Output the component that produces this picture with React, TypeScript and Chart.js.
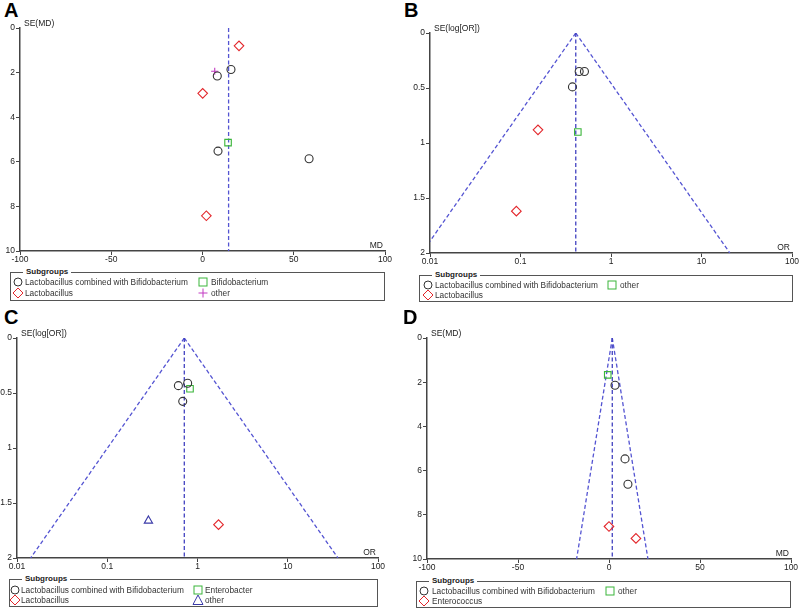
import React, { useEffect, useRef } from 'react';
import { Chart, registerables } from 'chart.js';

Chart.register(...registerables);

const FONT = '"Liberation Sans", Arial, Helvetica, sans-serif';
Chart.defaults.font.family = FONT;

// ---------- Panel A (MD) ----------
const aCombMD = [15.6, 8.1, 8.5, 58.4];
const aCombSE = [1.86, 2.15, 5.52, 5.86];
const aLactoMD = [20.0, 0.1, 2.1];
const aLactoSE = [0.8, 2.93, 8.42];
const aBifidoMD = [14.0];
const aBifidoSE = [5.14];
const aOtherMD = [6.7];
const aOtherSE = [1.94];
const aPooled = 14.3;

// ---------- Panel B (OR) ----------
const bCombOR = [0.445, 0.509, 0.375];
const bCombSE = [0.35, 0.35, 0.49];
const bLactoOR = [0.156, 0.09];
const bLactoSE = [0.88, 1.62];
const bOtherOR = [0.43];
const bOtherSE = [0.9];
const bPooled = 0.408;

// ---------- Panel C (OR) ----------
const cCombOR = [0.614, 0.778, 0.686];
const cCombSE = [0.433, 0.412, 0.576];
const cEnteroOR = [0.826];
const cEnteroSE = [0.461];
const cLactoOR = [1.71];
const cLactoSE = [1.697];
const cOtherOR = [0.286];
const cOtherSE = [1.661];
const cPooled = 0.714;

// ---------- Panel D (MD) ----------
const dCombMD = [3.3, 8.8, 10.4];
const dCombSE = [2.14, 5.47, 6.62];
const dOtherMD = [-0.7];
const dOtherSE = [1.67];
const dEnteroMD = [0.0, 14.8];
const dEnteroSE = [8.53, 9.07];
const dPooled = 1.8;

// ---------- ticks ----------
const mdTicks = [-100, -50, 0, 50, 100];
const mdSETicks = [0, 2, 4, 6, 8, 10];
const orTicks = [0.01, 0.1, 1, 10, 100];
const orSETicks = [0, 0.5, 1, 1.5, 2];

const Z = 1.96;

// ---------- labels ----------
const LBL_COMB = 'Lactobacillus combined with Bifidobacterium';
const LBL_LACTO = 'Lactobacillus';
const LBL_BIFIDO = 'Bifidobacterium';
const LBL_OTHER = 'other';
const LBL_ENTEROB = 'Enterobacter';
const LBL_ENTEROC = 'Enterococcus';

type Shape = 'circle' | 'diamond' | 'square' | 'plus' | 'triangle';

const SHAPES: Record<Shape, { pointStyle: string; radius: number; color: string }> = {
  circle: { pointStyle: 'circle', radius: 4, color: '#333333' },
  diamond: { pointStyle: 'rectRot', radius: 4.8, color: '#e3262b' },
  square: { pointStyle: 'rect', radius: 4.6, color: '#3ab53a' },
  plus: { pointStyle: 'cross', radius: 3.6, color: '#c23bc2' },
  triangle: { pointStyle: 'triangle', radius: 4.8, color: '#3a3aa8' },
};

const LINE_COLOR = '#5454d2';
const MID_COLOR = '#4242c0';

function pts(xs: number[], ys: number[], shape: Shape) {
  const s = SHAPES[shape];
  return {
    data: xs.map((x, i) => ({ x, y: ys[i] })),
    pointStyle: s.pointStyle,
    pointRadius: s.radius,
    borderColor: s.color,
    backgroundColor: 'rgba(0,0,0,0)',
    pointBorderWidth: 1.1,
    showLine: false,
    order: 1,
  };
}

function seg(x0: number, y0: number, x1: number, y1: number, color: string) {
  return {
    data: [
      { x: x0, y: y0 },
      { x: x1, y: y1 },
    ],
    showLine: true,
    pointRadius: 0,
    borderColor: color,
    borderWidth: 1.3,
    borderDash: [4, 2.5],
    fill: false,
    order: 10,
  };
}

function funnelMD(p: number, seMax: number) {
  return [
    seg(p, 0, p, seMax, MID_COLOR),
    seg(p, 0, p - Z * seMax, seMax, LINE_COLOR),
    seg(p, 0, p + Z * seMax, seMax, LINE_COLOR),
  ];
}

function funnelOR(p: number, seMax: number) {
  return [
    seg(p, 0, p, seMax, MID_COLOR),
    seg(p, 0, p * Math.exp(-Z * seMax), seMax, LINE_COLOR),
    seg(p, 0, p * Math.exp(Z * seMax), seMax, LINE_COLOR),
  ];
}

const axisTitles = {
  id: 'axisTitles',
  afterDraw(chart: any, _args: any, opts: any) {
    const { ctx, chartArea: a } = chart;
    ctx.save();
    ctx.font = `8.5px ${FONT}`;
    ctx.fillStyle = '#222';
    ctx.textBaseline = 'alphabetic';
    ctx.textAlign = 'left';
    ctx.fillText(opts.y, a.left + 4, a.top - 2);
    ctx.textAlign = 'right';
    ctx.fillText(opts.x, a.right - 2, a.bottom - 3);
    ctx.restore();
  },
};

type Area = { l: number; t: number; r: number; b: number };

type LegendItem = { shape: Shape; label: string; col: number; row: number };
type LegendSpec = {
  x: number;
  y: number;
  w: number;
  h: number;
  sym: number[];
  txt: number[];
  rows: number[];
  items: LegendItem[];
};

type PanelSpec = {
  letter: string;
  letterX: number;
  letterY: number;
  left: number;
  top: number;
  w: number;
  h: number;
  area: Area;
  xType: 'linear' | 'logarithmic';
  xMin: number;
  xMax: number;
  xTicks: number[];
  yMax: number;
  yTicks: number[];
  xTitle: string;
  yTitle: string;
  datasets: any[];
  legend: LegendSpec;
};

const AXIS_COLOR = '#444';

function ChartPanel({ p }: { p: PanelSpec }) {
  const ref = useRef<HTMLCanvasElement | null>(null);
  useEffect(() => {
    if (!ref.current) return;
    const tickFont = { size: 8.5, family: FONT };
    const chart = new Chart(ref.current, {
      type: 'scatter',
      data: { datasets: p.datasets },
      options: {
        animation: false,
        responsive: false,
        maintainAspectRatio: false,
        events: [],
        layout: { padding: { top: p.area.t, right: p.w - p.area.r, left: 0, bottom: 0 } },
        plugins: {
          legend: { display: false },
          tooltip: { enabled: false },
          axisTitles: { x: p.xTitle, y: p.yTitle },
        } as any,
        scales: {
          x: {
            type: p.xType,
            min: p.xMin,
            max: p.xMax,
            afterBuildTicks: (s: any) => {
              s.ticks = p.xTicks.map((v) => ({ value: v }));
            },
            afterFit: (s: any) => {
              s.height = p.h - p.area.b;
              s.paddingLeft = 0;
              s.paddingRight = 0;
            },
            ticks: {
              autoSkip: false,
              maxRotation: 0,
              minRotation: 0,
              padding: 0,
              color: '#222',
              font: tickFont,
              callback: (v: any) => String(v),
            },
            grid: { drawOnChartArea: false, drawTicks: true, tickLength: 4, color: AXIS_COLOR, lineWidth: 1 },
            border: { display: true, color: AXIS_COLOR, width: 1.5 },
          } as any,
          y: {
            type: 'linear',
            reverse: true,
            min: 0,
            max: p.yMax,
            afterBuildTicks: (s: any) => {
              s.ticks = p.yTicks.map((v) => ({ value: v }));
            },
            afterFit: (s: any) => {
              s.width = p.area.l;
              s.paddingTop = 0;
              s.paddingBottom = 0;
            },
            ticks: {
              autoSkip: false,
              padding: 1,
              color: '#222',
              font: tickFont,
              callback: (v: any) => String(v),
            },
            grid: { drawOnChartArea: false, drawTicks: true, tickLength: 4, color: AXIS_COLOR, lineWidth: 1 },
            border: { display: true, color: AXIS_COLOR, width: 1.5 },
          } as any,
        },
      },
      plugins: [axisTitles as any],
    });
    return () => chart.destroy();
  }, [p]);

  const lg = p.legend;
  return (
    <>
      <div
        style={{
          position: 'absolute',
          left: p.letterX,
          top: p.letterY,
          font: `bold 20px ${FONT}`,
          lineHeight: '20px',
          color: '#000',
        }}
      >
        {p.letter}
      </div>
      <canvas
        ref={ref}
        width={p.w}
        height={p.h}
        style={{ position: 'absolute', left: p.left, top: p.top, width: p.w, height: p.h }}
      />
      <div
        style={{
          position: 'absolute',
          left: lg.x,
          top: lg.y,
          width: lg.w,
          height: lg.h,
          border: '1px solid #555',
          boxSizing: 'border-box',
          fontFamily: FONT,
        }}
      >
        <div
          style={{
            position: 'absolute',
            left: 12,
            top: -6,
            padding: '0 3px',
            background: '#fff',
            font: `bold 8px ${FONT}`,
            lineHeight: '10px',
            color: '#222',
          }}
        >
          Subgroups
        </div>
        {lg.items.map((it, i) => (
          <React.Fragment key={i}>
            <Sym shape={it.shape} x={lg.sym[it.col]} y={lg.rows[it.row]} />
            <div
              style={{
                position: 'absolute',
                left: lg.txt[it.col],
                top: lg.rows[it.row] - 6,
                fontSize: '8.3px',
                lineHeight: '11px',
                color: '#333',
                whiteSpace: 'nowrap',
              }}
            >
              {it.label}
            </div>
          </React.Fragment>
        ))}
      </div>
    </>
  );
}

function Sym({ shape, x, y }: { shape: Shape; x: number; y: number }) {
  const c = SHAPES[shape].color;
  const common = { fill: 'none', stroke: c, strokeWidth: 1 };
  let el: any = null;
  if (shape === 'circle') el = <circle cx={6} cy={6} r={4} {...common} />;
  if (shape === 'diamond') el = <polygon points="6,1 11,6 6,11 1,6" {...common} />;
  if (shape === 'square') el = <rect x={2} y={2} width={8} height={8} {...common} />;
  if (shape === 'plus') el = <path d="M6 1.5V10.5M1.5 6H10.5" {...common} />;
  if (shape === 'triangle') el = <polygon points="6,1 11,10.5 1,10.5" {...common} />;
  return (
    <svg
      width={12}
      height={12}
      style={{ position: 'absolute', left: x - 6, top: y - 6 - 1, overflow: 'visible' }}
    >
      {el}
    </svg>
  );
}

const panels: PanelSpec[] = [
  {
    letter: 'A',
    letterX: 4,
    letterY: 0,
    left: 0,
    top: 0,
    w: 400,
    h: 268,
    area: { l: 20, t: 28, r: 385, b: 251 },
    xType: 'linear',
    xMin: -100,
    xMax: 100,
    xTicks: mdTicks,
    yMax: 10,
    yTicks: mdSETicks,
    xTitle: 'MD',
    yTitle: 'SE(MD)',
    datasets: [
      pts(aCombMD, aCombSE, 'circle'),
      pts(aLactoMD, aLactoSE, 'diamond'),
      pts(aBifidoMD, aBifidoSE, 'square'),
      pts(aOtherMD, aOtherSE, 'plus'),
      seg(aPooled, 0, aPooled, 10, LINE_COLOR),
    ],
    legend: {
      x: 10,
      y: 272,
      w: 375,
      h: 29,
      sym: [7, 192],
      txt: [14, 200],
      rows: [10, 21],
      items: [
        { shape: 'circle', label: LBL_COMB, col: 0, row: 0 },
        { shape: 'square', label: LBL_BIFIDO, col: 1, row: 0 },
        { shape: 'diamond', label: LBL_LACTO, col: 0, row: 1 },
        { shape: 'plus', label: LBL_OTHER, col: 1, row: 1 },
      ],
    },
  },
  {
    letter: 'B',
    letterX: 404,
    letterY: 0,
    left: 400,
    top: 0,
    w: 400,
    h: 270,
    area: { l: 30, t: 33, r: 392, b: 253 },
    xType: 'logarithmic',
    xMin: 0.01,
    xMax: 100,
    xTicks: orTicks,
    yMax: 2,
    yTicks: orSETicks,
    xTitle: 'OR',
    yTitle: 'SE(log[OR])',
    datasets: [
      pts(bCombOR, bCombSE, 'circle'),
      pts(bLactoOR, bLactoSE, 'diamond'),
      pts(bOtherOR, bOtherSE, 'square'),
      ...funnelOR(bPooled, 2),
    ],
    legend: {
      x: 419,
      y: 275,
      w: 374,
      h: 27,
      sym: [8, 192],
      txt: [15, 200],
      rows: [10, 20],
      items: [
        { shape: 'circle', label: LBL_COMB, col: 0, row: 0 },
        { shape: 'square', label: LBL_OTHER, col: 1, row: 0 },
        { shape: 'diamond', label: LBL_LACTO, col: 0, row: 1 },
      ],
    },
  },
  {
    letter: 'C',
    letterX: 4,
    letterY: 307,
    left: 0,
    top: 300,
    w: 400,
    h: 276,
    area: { l: 17, t: 38, r: 378, b: 258 },
    xType: 'logarithmic',
    xMin: 0.01,
    xMax: 100,
    xTicks: orTicks,
    yMax: 2,
    yTicks: orSETicks,
    xTitle: 'OR',
    yTitle: 'SE(log[OR])',
    datasets: [
      pts(cCombOR, cCombSE, 'circle'),
      pts(cEnteroOR, cEnteroSE, 'square'),
      pts(cLactoOR, cLactoSE, 'diamond'),
      pts(cOtherOR, cOtherSE, 'triangle'),
      ...funnelOR(cPooled, 2),
    ],
    legend: {
      x: 9,
      y: 579,
      w: 369,
      h: 28,
      sym: [5, 188],
      txt: [11, 195],
      rows: [11, 21],
      items: [
        { shape: 'circle', label: LBL_COMB, col: 0, row: 0 },
        { shape: 'square', label: LBL_ENTEROB, col: 1, row: 0 },
        { shape: 'diamond', label: LBL_LACTO, col: 0, row: 1 },
        { shape: 'triangle', label: LBL_OTHER, col: 1, row: 1 },
      ],
    },
  },
  {
    letter: 'D',
    letterX: 403,
    letterY: 307,
    left: 400,
    top: 300,
    w: 400,
    h: 276,
    area: { l: 27, t: 38, r: 391, b: 259 },
    xType: 'linear',
    xMin: -100,
    xMax: 100,
    xTicks: mdTicks,
    yMax: 10,
    yTicks: mdSETicks,
    xTitle: 'MD',
    yTitle: 'SE(MD)',
    datasets: [
      pts(dCombMD, dCombSE, 'circle'),
      pts(dOtherMD, dOtherSE, 'square'),
      pts(dEnteroMD, dEnteroSE, 'diamond'),
      ...funnelMD(dPooled, 10),
    ],
    legend: {
      x: 416,
      y: 581,
      w: 375,
      h: 27,
      sym: [7, 193],
      txt: [15, 201],
      rows: [10, 20],
      items: [
        { shape: 'circle', label: LBL_COMB, col: 0, row: 0 },
        { shape: 'square', label: LBL_OTHER, col: 1, row: 0 },
        { shape: 'diamond', label: LBL_ENTEROC, col: 0, row: 1 },
      ],
    },
  },
];

export default function App() {
  return (
    <div
      style={{
        position: 'fixed',
        left: 0,
        top: 0,
        width: 800,
        height: 610,
        background: '#fff',
        overflow: 'hidden',
        fontFamily: FONT,
      }}
    >
      {panels.map((p) => (
        <ChartPanel key={p.letter} p={p} />
      ))}
    </div>
  );
}
